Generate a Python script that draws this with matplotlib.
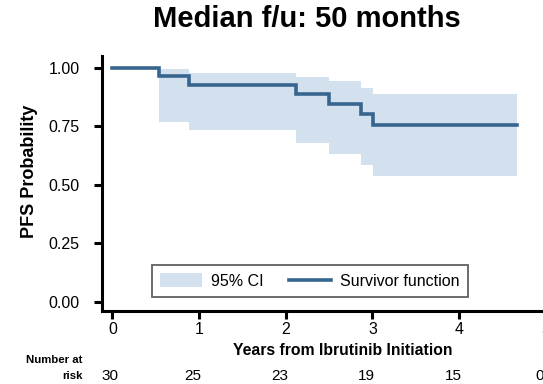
import matplotlib
matplotlib.use("Agg")
import matplotlib.pyplot as plt
from matplotlib.patches import Patch
from matplotlib.lines import Line2D

plt.rcParams['font.family'] = ['Liberation Sans', 'DejaVu Sans']

# Kaplan-Meier estimate of progression-free survival
times = [0.0, 0.539, 0.885, 2.115, 2.50, 2.87, 3.01, 4.665]
surv = [1.0, 0.965, 0.928, 0.887, 0.846, 0.800, 0.757, 0.757]

# 95% confidence band (starts at the first event)
ci_times = [0.539, 0.885, 2.115, 2.50, 2.87, 3.01, 4.665]
ci_lower = [0.766, 0.733, 0.679, 0.630, 0.583, 0.537, 0.537]
ci_upper = [0.995, 0.978, 0.961, 0.943, 0.912, 0.888, 0.888]

# Number at risk table
risk_times = [0, 1, 2, 3, 4, 5]
risk_counts = [30, 25, 23, 19, 15, 0]

y_ticks = [0.0, 0.25, 0.50, 0.75, 1.0]
y_ticklabels = ["0.00", "0.25", "0.50", "0.75", "1.00"]
x_ticks = [0, 1, 2, 3, 4, 5]

line_color = "#37658f"
band_color = "#d2e1ed"

W, H = 543, 384
fig = plt.figure(figsize=(W / 100, H / 100), dpi=100)

# axes rectangle in pixel units
left_px, right_px, bottom_px, top_px = 102, 548, 310.7, 56
ax = fig.add_axes([left_px / W, 1 - bottom_px / H,
                   (right_px - left_px) / W, (bottom_px - top_px) / H])

ax.fill_between(ci_times, ci_lower, ci_upper, step="post",
                color=band_color, linewidth=0)
ax.step(times, surv, where="post", color=line_color, linewidth=2.6,
        solid_joinstyle="miter")

ax.set_xlim(-0.119, 5.025)
ax.set_ylim(-0.0385, 1.05)

for side in ("top", "right"):
    ax.spines[side].set_visible(False)
for side in ("left", "bottom"):
    ax.spines[side].set_linewidth(2.2)
    ax.spines[side].set_capstyle("projecting")

ax.set_yticks(y_ticks)
ax.set_yticklabels(y_ticklabels)
ax.set_xticks(x_ticks)
ax.tick_params(axis="y", direction="out", length=6, width=2.2,
               labelsize=11.5, pad=10)
ax.tick_params(axis="x", direction="out", length=6, width=2.2,
               labelsize=11.5, pad=2)
for lab in ax.get_xticklabels() + ax.get_yticklabels():
    lab.set_clip_on(False)

# Legend
handles = [Patch(facecolor=band_color, edgecolor="none", label="95% CI"),
           Line2D([0], [0], color=line_color, linewidth=2.6,
                  label="Survivor function")]
leg = ax.legend(handles=handles, ncol=2, loc="center",
                bbox_to_anchor=(310 / W, 1 - 281 / H),
                bbox_transform=fig.transFigure,
                fontsize=11.5, frameon=True, fancybox=False,
                edgecolor="#606060", framealpha=1,
                handlelength=2.6, handleheight=0.9, handletextpad=0.6,
                columnspacing=1.6, borderpad=0.5, borderaxespad=0)
leg.get_frame().set_linewidth(1.3)

# Title and axis titles
fig.text(307 / W, 1 - 27 / H, "Median f/u: 50 months", ha="center",
         va="baseline", fontsize=21, fontweight="bold")
fig.text(30 / W, 1 - 171 / H, "PFS Probability", rotation=90,
         ha="center", va="center", fontsize=13, fontweight="bold")
fig.text(342.6 / W, 1 - 355 / H, "Years from Ibrutinib Initiation",
         ha="center", va="baseline", fontsize=11.3, fontweight="bold")

# Number at risk row
fig.text(83 / W, 1 - 363 / H, "Number at", ha="right", va="baseline",
         fontsize=8.2, fontweight="bold")
fig.text(83 / W, 1 - 379 / H, "risk", ha="right", va="baseline",
         fontsize=8.2, fontweight="bold")
for t, n in zip(risk_times, risk_counts):
    x_disp = ax.transData.transform((t, 0))[0]
    x_fig = (x_disp - (2 if t == 0 else 6)) / W
    fig.text(x_fig, 1 - 380 / H, str(n), ha="center", va="baseline",
             fontsize=11)

fig.savefig("out.png", dpi=100)
